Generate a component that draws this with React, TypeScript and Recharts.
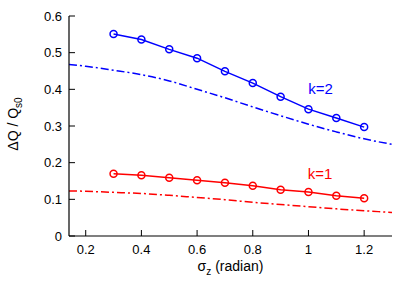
import { Line, LineChart, ReferenceDot, XAxis, YAxis } from "recharts";

const sigmaZ = [0.3, 0.4, 0.5, 0.6, 0.7, 0.8, 0.9, 1.0, 1.1, 1.2];
const deltaQk2 = [0.551, 0.536, 0.509, 0.485, 0.449, 0.417, 0.38, 0.346, 0.322, 0.297];
const deltaQk1 = [0.17, 0.166, 0.159, 0.152, 0.145, 0.137, 0.126, 0.12, 0.11, 0.103];

const sigmaCurve = [0.14, 0.2, 0.3, 0.4, 0.5, 0.6, 0.7, 0.8, 0.9, 1.0, 1.1, 1.2, 1.3];
const curveK2 = [0.468, 0.463, 0.452, 0.44, 0.423, 0.4, 0.377, 0.352, 0.328, 0.305, 0.284, 0.265, 0.25];
const curveK1 = [0.123, 0.122, 0.119, 0.116, 0.111, 0.105, 0.099, 0.092, 0.086, 0.08, 0.074, 0.069, 0.064];

const xTicks = [0.2, 0.4, 0.6, 0.8, 1, 1.2];
const yTicks = [0, 0.1, 0.2, 0.3, 0.4, 0.5, 0.6];

const BLUE = "#0000ff";
const RED = "#ff0000";
const FONT = "'Liberation Sans', Arial, sans-serif";

const k2Points = sigmaZ.map((x, i) => ({ x, y: deltaQk2[i] }));
const k1Points = sigmaZ.map((x, i) => ({ x, y: deltaQk1[i] }));
const k2Curve = sigmaCurve.map((x, i) => ({ x, y: curveK2[i] }));
const k1Curve = sigmaCurve.map((x, i) => ({ x, y: curveK1[i] }));

const fmt = (v: number) => String(v);

const BottomTick = (props: any) => {
  const { x, y, payload } = props;
  return (
    <g>
      <line x1={x} y1={y} x2={x} y2={y - 6} stroke="#000" />
      <text x={x} y={y + 18} textAnchor="middle" fontSize={13} fontFamily={FONT} fill="#000">
        {fmt(payload.value)}
      </text>
    </g>
  );
};

const TopTick = (props: any) => {
  const { x, y } = props;
  return <line x1={x} y1={y} x2={x} y2={y + 6} stroke="#000" />;
};

const LeftTick = (props: any) => {
  const { x, y, payload } = props;
  return (
    <g>
      <line x1={x} y1={y} x2={x + 6} y2={y} stroke="#000" />
      <text x={x - 7} y={y + 4.5} textAnchor="end" fontSize={13} fontFamily={FONT} fill="#000">
        {fmt(payload.value)}
      </text>
    </g>
  );
};

const RightTick = (props: any) => {
  const { x, y } = props;
  return <line x1={x} y1={y} x2={x - 6} y2={y} stroke="#000" />;
};

const XLabel = (props: any) => {
  const { x, y, width } = props.viewBox;
  return (
    <text x={x + width / 2} y={y + 35} textAnchor="middle" fontSize={14} fontFamily={FONT} fill="#000">
      σ<tspan fontSize={10} dy={4}>z</tspan>
      <tspan dy={-4}> (radian)</tspan>
    </text>
  );
};

const YLabel = (props: any) => {
  const { y, height } = props.viewBox;
  const cx = 18;
  const cy = y + height / 2 - 2;
  return (
    <text
      x={cx}
      y={cy}
      transform={`rotate(-90 ${cx} ${cy})`}
      textAnchor="middle"
      fontSize={14}
      fontFamily={FONT}
      fill="#000"
    >
      ΔQ / Q<tspan fontSize={10} dy={4}>s0</tspan>
    </text>
  );
};

const curveLabel = (text: string, color: string) => (props: any) => {
  const vb = props.viewBox || {};
  const cx = vb.cx ?? (vb.x ?? 0) + (vb.width ?? 0) / 2;
  const cy = vb.cy ?? (vb.y ?? 0) + (vb.height ?? 0) / 2;
  return (
    <text x={cx} y={cy} dy="0.35em" textAnchor="middle" fontSize={15} fontFamily={FONT} fill={color}>
      {text}
    </text>
  );
};

const App = () => {
  return (
    <div style={{ position: "absolute", left: 0, top: 0, background: "#fff" }}>
      <LineChart width={415} height={290} margin={{ top: 16, right: 23, bottom: 0, left: 0 }}>
        <XAxis
          xAxisId="b"
          type="number"
          dataKey="x"
          domain={[0.14, 1.3]}
          allowDataOverflow
          ticks={xTicks}
          interval={0}
          height={54}
          tickSize={0}
          tickMargin={0}
          tickLine={false}
          axisLine={{ stroke: "#000", strokeWidth: 1.2 }}
          tick={BottomTick}
          label={XLabel}
        />
        <XAxis
          xAxisId="t"
          orientation="top"
          type="number"
          dataKey="x"
          domain={[0.14, 1.3]}
          allowDataOverflow
          ticks={xTicks}
          interval={0}
          height={0}
          tickSize={0}
          tickMargin={0}
          tickLine={false}
          axisLine={{ stroke: "#000", strokeWidth: 1.2 }}
          tick={TopTick}
        />
        <YAxis
          yAxisId="l"
          type="number"
          domain={[0, 0.6]}
          allowDataOverflow
          ticks={yTicks}
          interval={0}
          width={69}
          tickSize={0}
          tickMargin={0}
          tickLine={false}
          axisLine={{ stroke: "#000", strokeWidth: 1.2 }}
          tick={LeftTick}
          label={YLabel}
        />
        <YAxis
          yAxisId="r"
          orientation="right"
          type="number"
          domain={[0, 0.6]}
          allowDataOverflow
          ticks={yTicks}
          interval={0}
          width={0}
          tickSize={0}
          tickMargin={0}
          tickLine={false}
          axisLine={{ stroke: "#000", strokeWidth: 1.2 }}
          tick={RightTick}
        />
        <Line
          xAxisId="b"
          yAxisId="l"
          data={k2Curve}
          dataKey="y"
          type="monotone"
          stroke={BLUE}
          strokeWidth={1.5}
          strokeDasharray="8 3 2 3"
          dot={false}
          isAnimationActive={false}
        />
        <Line
          xAxisId="b"
          yAxisId="l"
          data={k1Curve}
          dataKey="y"
          type="monotone"
          stroke={RED}
          strokeWidth={1.5}
          strokeDasharray="8 3 2 3"
          dot={false}
          isAnimationActive={false}
        />
        <Line
          xAxisId="b"
          yAxisId="l"
          data={k2Points}
          dataKey="y"
          type="linear"
          stroke={BLUE}
          strokeWidth={1.5}
          dot={{ r: 3.5, stroke: BLUE, strokeWidth: 1.5, fill: "none" }}
          isAnimationActive={false}
        />
        <Line
          xAxisId="b"
          yAxisId="l"
          data={k1Points}
          dataKey="y"
          type="linear"
          stroke={RED}
          strokeWidth={1.5}
          dot={{ r: 3.5, stroke: RED, strokeWidth: 1.5, fill: "none" }}
          isAnimationActive={false}
        />
        <ReferenceDot xAxisId="b" yAxisId="l" x={1.043} y={0.402} r={0} label={curveLabel("k=2", BLUE)} />
        <ReferenceDot xAxisId="b" yAxisId="l" x={1.042} y={0.17} r={0} label={curveLabel("k=1", RED)} />
      </LineChart>
    </div>
  );
};

export default App;
